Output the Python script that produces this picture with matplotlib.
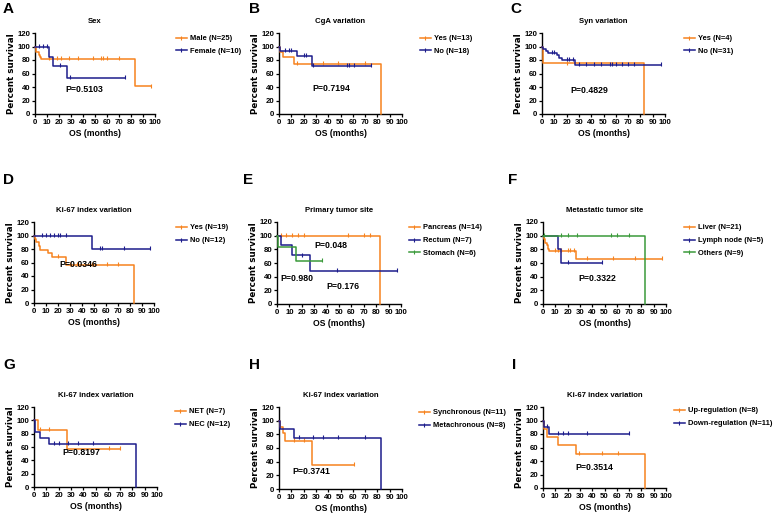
import numpy as np
import matplotlib
matplotlib.use("Agg")
import matplotlib.pyplot as plt
from matplotlib.lines import Line2D

plt.rcParams['font.family'] = ['Liberation Sans', 'DejaVu Sans']
plt.rcParams['font.weight'] = 'bold'

ORANGE = '#F7821E'
NAVY = '#1C1C8C'
GREEN = '#3A9A3A'

# ---- data: event times, survival after each event, last follow-up, censored times
a_male_t = [1, 3, 4, 5, 83]
a_male_s = [92, 88, 85, 82, 41]
a_male_end = 97
a_male_c = [12, 18, 22, 28, 36, 48, 55, 57, 60, 70, 97]
a_fem_t = [12, 15, 27]
a_fem_s = [85, 71, 53]
a_fem_end = 75
a_fem_c = [3, 7, 10, 21, 29, 75]

b_yes_t = [1, 3, 12, 83]
b_yes_s = [92, 84, 74, 0]
b_yes_end = 83
b_yes_c = [15, 36, 48, 70]
b_no_t = [1, 15, 27]
b_no_s = [94, 86, 71]
b_no_end = 75
b_no_c = [5, 8, 10, 20, 22, 28, 55, 57, 61, 75]

c_yes_t = [1, 83]
c_yes_s = [75, 0]
c_yes_end = 83
c_yes_c = [20]
c_no_t = [1, 3, 5, 12, 14, 16, 27]
c_no_s = [97, 94, 90, 87, 83, 80, 73]
c_no_end = 97
c_no_c = [8, 10, 20, 22, 25, 30, 36, 42, 48, 55, 57, 60, 65, 70, 75, 97]

d_yes_t = [1, 2, 4, 5, 12, 15, 27, 83]
d_yes_s = [95, 90, 85, 79, 74, 68, 57, 0]
d_yes_end = 83
d_yes_c = [20, 30, 36, 48, 61, 70]
d_no_t = [48]
d_no_s = [80]
d_no_end = 97
d_no_c = [7, 10, 13, 17, 20, 22, 27, 55, 57, 75, 97]

e_pan_t = [83]
e_pan_s = [0]
e_pan_end = 83
e_pan_c = [3, 7, 12, 17, 22, 57, 70, 75]
e_rec_t = [3, 12, 27]
e_rec_s = [86, 71, 48]
e_rec_end = 97
e_rec_c = [20, 48, 97]
e_sto_t = [1, 15]
e_sto_s = [83, 63]
e_sto_end = 36
e_sto_c = [36]

f_liv_t = [1, 2, 3, 4, 5, 27]
f_liv_s = [95, 90, 86, 81, 78, 66]
f_liv_end = 97
f_liv_c = [10, 12, 15, 20, 22, 25, 36, 57, 75, 97]
f_lym_t = [12, 15]
f_lym_s = [80, 60]
f_lym_end = 48
f_lym_c = [20, 48]
f_oth_t = [83]
f_oth_s = [0]
f_oth_end = 83
f_oth_c = [1, 15, 20, 28, 55, 60, 70]

g_net_t = [3, 27]
g_net_s = [86, 57]
g_net_end = 70
g_net_c = [5, 12, 61, 70]
g_nec_t = [0.5, 1, 5, 12, 83]
g_nec_s = [92, 83, 74, 65, 0]
g_nec_end = 83
g_nec_c = [16, 20, 28, 36, 48]

h_syn_t = [1, 3, 5, 27]
h_syn_s = [91, 82, 70, 35]
h_syn_end = 61
h_syn_c = [12, 20, 61]
h_met_t = [1, 12, 83]
h_met_s = [88, 75, 0]
h_met_end = 83
h_met_c = [16, 28, 36, 48, 70]

i_up_t = [1, 3, 12, 27, 83]
i_up_s = [88, 75, 63, 50, 0]
i_up_end = 83
i_up_c = [29, 48, 61]
i_down_t = [1, 5]
i_down_s = [91, 80]
i_down_end = 70
i_down_c = [3, 12, 16, 20, 36, 70]

x_ticks = list(range(0, 101, 10))
y_ticks = list(range(0, 121, 20))


def km(ax, t, s, end, cens, color):
    tt = np.array([0] + list(t) + [end], dtype=float)
    ss = np.array([100] + list(s) + [s[-1]], dtype=float)
    ax.step(tt, ss, where='post', color=color, lw=1.1, clip_on=False, zorder=3)
    ev = np.array([0] + list(t), dtype=float)
    sv = np.array([100] + list(s), dtype=float)
    cy = [sv[np.searchsorted(ev, c, side='right') - 1] for c in cens]
    ax.plot(cens, np.array(cy) + 1.2, ls='none', marker='|', ms=2.6, mew=0.8,
            color=color, clip_on=False, zorder=3)


fig = plt.figure(figsize=(7.78, 5.13), dpi=100)
W, H = 778, 513


def make_ax(x0, x1, yt, yb):
    ax = fig.add_axes([x0 / W, 1 - yb / H, (x1 - x0) / W, (yb - yt) / H])
    ax.set_xlim(0, 100)
    ax.set_ylim(0, 120)
    ax.set_xticks(x_ticks)
    ax.set_yticks(y_ticks)
    for sp in ['top', 'right']:
        ax.spines[sp].set_visible(False)
    for sp in ['left', 'bottom']:
        ax.spines[sp].set_linewidth(1.0)
    ax.tick_params(length=2.5, width=0.9, pad=1, labelsize=5.6)
    ax.set_xlabel('OS (months)', fontsize=6.2, fontweight='bold', labelpad=2)
    ax.set_ylabel('Percent survival', fontsize=6.3, fontweight='bold',
                  family=['DejaVu Sans'], labelpad=1)
    return ax


def legend(ax, labels, colors, x, y):
    hs = [Line2D([0], [0], color=c, lw=1.1, marker='|', ms=2.6, mew=0.8) for c in colors]
    ax.legend(hs, labels, loc='upper left', bbox_to_anchor=(x / W, 1 - y / H),
              bbox_transform=fig.transFigure, frameon=False, fontsize=5.4,
              handlelength=1.4, handletextpad=0.5, labelspacing=0.75, borderpad=0,
              borderaxespad=0)


def title(ax, txt):
    ax.set_title(txt, fontsize=5.6, fontweight='bold', pad=7)


def ptext(ax, x, y, txt):
    ax.text(x, y, txt, fontsize=6.3, fontweight='bold', va='center', ha='left')


# A
ax = make_ax(35, 155, 33, 114)
km(ax, a_male_t, a_male_s, a_male_end, a_male_c, ORANGE)
km(ax, a_fem_t, a_fem_s, a_fem_end, a_fem_c, NAVY)
title(ax, 'Sex')
legend(ax, ['Male (N=25)', 'Female (N=10)'], [ORANGE, NAVY], 176, 35)
ptext(ax, 25, 37, 'P=0.5103')

# B
ax = make_ax(279, 402, 33, 114)
km(ax, b_yes_t, b_yes_s, b_yes_end, b_yes_c, ORANGE)
km(ax, b_no_t, b_no_s, b_no_end, b_no_c, NAVY)
title(ax, 'CgA variation')
legend(ax, ['Yes (N=13)', 'No (N=18)'], [ORANGE, NAVY], 420, 35)
ptext(ax, 27.5, 38, 'P=0.7194')

# C
ax = make_ax(542, 665, 33, 114)
km(ax, c_yes_t, c_yes_s, c_yes_end, c_yes_c, ORANGE)
km(ax, c_no_t, c_no_s, c_no_end, c_no_c, NAVY)
title(ax, 'Syn variation')
legend(ax, ['Yes (N=4)', 'No (N=31)'], [ORANGE, NAVY], 684, 35)
ptext(ax, 23, 35.5, 'P=0.4829')

# D
ax = make_ax(34, 154, 222, 303)
km(ax, d_yes_t, d_yes_s, d_yes_end, d_yes_c, ORANGE)
km(ax, d_no_t, d_no_s, d_no_end, d_no_c, NAVY)
title(ax, 'Ki-67 index variation')
legend(ax, ['Yes (N=19)', 'No (N=12)'], [ORANGE, NAVY], 176, 224)
ptext(ax, 21.5, 57, 'P=0.0346')

# E
ax = make_ax(277, 401, 222, 304)
km(ax, e_pan_t, e_pan_s, e_pan_end, e_pan_c, ORANGE)
km(ax, e_rec_t, e_rec_s, e_rec_end, e_rec_c, NAVY)
km(ax, e_sto_t, e_sto_s, e_sto_end, e_sto_c, GREEN)
title(ax, 'Primary tumor site')
legend(ax, ['Pancreas (N=14)', 'Rectum (N=7)', 'Stomach (N=6)'],
       [ORANGE, NAVY, GREEN], 409, 224)
ptext(ax, 30.5, 85, 'P=0.048')
ptext(ax, 3, 38, 'P=0.980')
ptext(ax, 40, 25, 'P=0.176')

# F
ax = make_ax(543, 666, 222, 304)
km(ax, f_liv_t, f_liv_s, f_liv_end, f_liv_c, ORANGE)
km(ax, f_lym_t, f_lym_s, f_lym_end, f_lym_c, NAVY)
km(ax, f_oth_t, f_oth_s, f_oth_end, f_oth_c, GREEN)
title(ax, 'Metastatic tumor site')
legend(ax, ['Liver (N=21)', 'Lymph node (N=5)', 'Others (N=9)'],
       [ORANGE, NAVY, GREEN], 684, 224)
ptext(ax, 28.5, 38, 'P=0.3322')

# G
ax = make_ax(34, 157, 407, 487)
km(ax, g_net_t, g_net_s, g_net_end, g_net_c, ORANGE)
km(ax, g_nec_t, g_nec_s, g_nec_end, g_nec_c, NAVY)
title(ax, 'Ki-67 index variation')
legend(ax, ['NET (N=7)', 'NEC (N=12)'], [ORANGE, NAVY], 175, 408)
ptext(ax, 23, 52, 'P=0.8197')

# H
ax = make_ax(279, 402, 407, 489)
km(ax, h_syn_t, h_syn_s, h_syn_end, h_syn_c, ORANGE)
km(ax, h_met_t, h_met_s, h_met_end, h_met_c, NAVY)
title(ax, 'Ki-67 index variation')
legend(ax, ['Synchronous (N=11)', 'Metachronous (N=8)'], [ORANGE, NAVY], 419, 409)
ptext(ax, 10.5, 25, 'P=0.3741')

# I
ax = make_ax(543, 666, 407, 488)
km(ax, i_up_t, i_up_s, i_up_end, i_up_c, ORANGE)
km(ax, i_down_t, i_down_s, i_down_end, i_down_c, NAVY)
title(ax, 'Ki-67 index variation')
legend(ax, ['Up-regulation (N=8)', 'Down-regulation (N=11)'], [ORANGE, NAVY], 674, 407)
ptext(ax, 26, 31, 'P=0.3514')

# panel letters
for letter, px, py in [('A', 3, 9), ('B', 249, 9), ('C', 510, 9),
                       ('D', 3, 180), ('E', 243, 180), ('F', 508, 180),
                       ('G', 3, 365), ('H', 249, 365), ('I', 512, 365)]:
    fig.text(px / W, 1 - py / H, letter, fontsize=11, fontweight='bold',
             va='center', ha='left')

fig.savefig('out.png', dpi=100)
